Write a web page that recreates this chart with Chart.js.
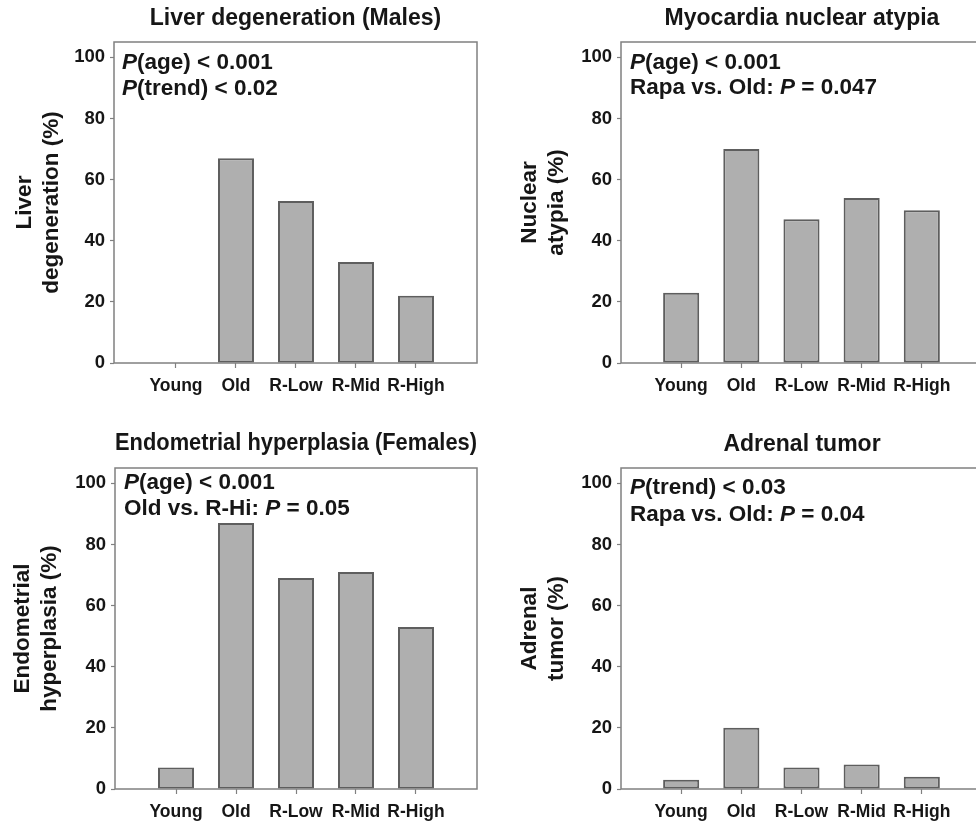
<!DOCTYPE html>
<html><head><meta charset="utf-8">
<script src="https://cdn.jsdelivr.net/npm/chart.js@4/dist/chart.umd.min.js"></script>
<style>
html,body{margin:0;padding:0;background:#fff;overflow:hidden;width:976px;height:823px;position:relative}
canvas{position:absolute}
</style></head><body>
<canvas id="c1" width="488" height="410" style="left:0;top:0"></canvas>
<canvas id="c2" width="500" height="410" style="left:488px;top:0"></canvas>
<canvas id="c3" width="488" height="413" style="left:0;top:410px"></canvas>
<canvas id="c4" width="500" height="413" style="left:488px;top:410px"></canvas>
<script>
// ---- data ----
const categories = ['Young', 'Old', 'R-Low', 'R-Mid', 'R-High'];
const liverValues = [0, 67, 53, 33, 22];
const atypiaValues = [23, 70, 47, 54, 50];
const endometrialValues = [7, 87, 69, 71, 53];
const adrenalValues = [3, 20, 7, 8, 4];
const yTickValues = [0, 20, 40, 60, 80, 100];
const panelTitles = ['Liver degeneration (Males)', 'Myocardia nuclear atypia', 'Endometrial hyperplasia (Females)', 'Adrenal tumor'];
const yAxisTitles = [['Liver', 'degeneration (%)'], ['Nuclear', 'atypia (%)'], ['Endometrial', 'hyperplasia (%)'], ['Adrenal', 'tumor (%)']];
// annotation lines: segments, i = italic
const annotations = [
  [[{t: 'P', i: true}, {t: '(age) < 0.001'}], [{t: 'P', i: true}, {t: '(trend) < 0.02'}]],
  [[{t: 'P', i: true}, {t: '(age) < 0.001'}], [{t: 'Rapa vs. Old: '}, {t: 'P', i: true}, {t: ' = 0.047'}]],
  [[{t: 'P', i: true}, {t: '(age) < 0.001'}], [{t: 'Old vs. R-Hi: '}, {t: 'P', i: true}, {t: ' = 0.05'}]],
  [[{t: 'P', i: true}, {t: '(trend) < 0.03'}], [{t: 'Rapa vs. Old: '}, {t: 'P', i: true}, {t: ' = 0.04'}]]
];
const seriesValues = [liverValues, atypiaValues, endometrialValues, adrenalValues];

// ---- layout / style ----
const layouts = [
  {id: 'c1', w: 488, h: 410, area: {left: 114, right: 477, top: 42, bottom: 363}, xmin: -1.033, xmax: 5.017, tPad: [5.2, 9.2], yTitlePad: 11.5, ann: {dx: 8, y1: 21, y2: 47}},
  {id: 'c2', w: 500, h: 410, area: {left: 133, right: 495, top: 42, bottom: 363}, xmin: -1.0, xmax: 5.017, tPad: [5.2, 9.2], yTitlePad: 28.5, ann: {dx: 9, y1: 21, y2: 46}},
  {id: 'c3', w: 488, h: 413, area: {left: 115, right: 477, top: 58, bottom: 379}, xmin: -1.017, xmax: 5.017, tPad: [20.2, 10.2], yTitlePad: 9.5, ann: {dx: 9, y1: 15, y2: 41}},
  {id: 'c4', w: 500, h: 413, area: {left: 133, right: 495, top: 58, bottom: 379}, xmin: -1.0, xmax: 5.017, tPad: [20.7, 9.7], yTitlePad: 28.5, ann: {dx: 9, y1: 20, y2: 47}}
];
const FONT = "'Liberation Sans', Arial, Helvetica, sans-serif";
const TEXT = '#161616';
const FRAME = '#808080';

const framePlugin = {
  id: 'frame',
  beforeDatasetsDraw(chart) {
    const {ctx, chartArea: a} = chart;
    ctx.save();
    ctx.strokeStyle = FRAME;
    ctx.lineWidth = 1.5;
    ctx.strokeRect(a.left, a.top, a.right - a.left, a.bottom - a.top);
    ctx.restore();
  }
};
const annotPlugin = {
  id: 'annot',
  afterDraw(chart, args, opts) {
    const {ctx, chartArea: a} = chart;
    ctx.save();
    ctx.fillStyle = TEXT;
    ctx.textBaseline = 'middle';
    ctx.textAlign = 'left';
    opts.lines.forEach((segs, li) => {
      let x = a.left + opts.pos.dx;
      const y = a.top + (li === 0 ? opts.pos.y1 : opts.pos.y2);
      segs.forEach(s => {
        ctx.font = (s.i ? 'italic ' : '') + 'bold 22.5px ' + FONT;
        ctx.fillText(s.t, x, y);
        x += ctx.measureText(s.t).width;
      });
    });
    ctx.restore();
  }
};

layouts.forEach((L, k) => {
  new Chart(document.getElementById(L.id), {
    type: 'bar',
    data: {
      datasets: [{
        data: seriesValues[k].map((v, i) => ({x: i, y: v})),
        backgroundColor: '#afafaf',
        borderColor: '#5e5e5e',
        borderWidth: 2,
        borderSkipped: false,
        categoryPercentage: 1,
        barPercentage: 0.6
      }]
    },
    options: {
      responsive: false,
      animation: false,
      layout: {padding: {left: 0, top: 0, right: L.w - L.area.right, bottom: 0}},
      plugins: {
        legend: {display: false},
        tooltip: {enabled: false},
        title: {
          display: true,
          text: panelTitles[k],
          fullSize: false,
          color: TEXT,
          font: {family: FONT, size: 23, weight: 'bold', lineHeight: 1.2},
          padding: {top: L.tPad[0], bottom: L.tPad[1]}
        },
        annot: {lines: annotations[k], pos: L.ann}
      },
      scales: {
        x: {
          type: 'linear',
          offset: false,
          min: L.xmin,
          max: L.xmax,
          afterFit: (axis) => { axis.height = L.h - L.area.bottom; },
          afterBuildTicks: (axis) => { axis.ticks = categories.map((c, i) => ({value: i})); },
          border: {display: false},
          grid: {display: true, offset: false, drawOnChartArea: false, drawTicks: true, tickLength: 5, tickColor: FRAME, tickWidth: 1.2},
          ticks: {
            autoSkip: false, maxRotation: 0, minRotation: 0, padding: 8,
            color: TEXT,
            font: {family: FONT, size: 17.5, weight: 'bold'},
            callback: (v) => categories[v]
          }
        },
        y: {
          type: 'linear',
          min: 0,
          max: 105,
          afterFit: (axis) => { axis.width = L.area.left; },
          afterBuildTicks: (axis) => { axis.ticks = yTickValues.map(v => ({value: v})); },
          border: {display: false},
          grid: {display: true, drawOnChartArea: false, drawTicks: true, tickLength: 4, tickColor: FRAME, tickWidth: 1.2},
          ticks: {
            padding: 5,
            color: TEXT,
            font: {family: FONT, size: 18.5, weight: 'bold'}
          },
          title: {
            display: true,
            text: yAxisTitles[k],
            color: TEXT,
            font: {family: FONT, size: 22.5, weight: 'bold', lineHeight: 27 / 22.5},
            padding: {top: L.yTitlePad, bottom: 0}
          }
        }
      }
    },
    plugins: [framePlugin, annotPlugin]
  });
});
</script>
</body></html>
